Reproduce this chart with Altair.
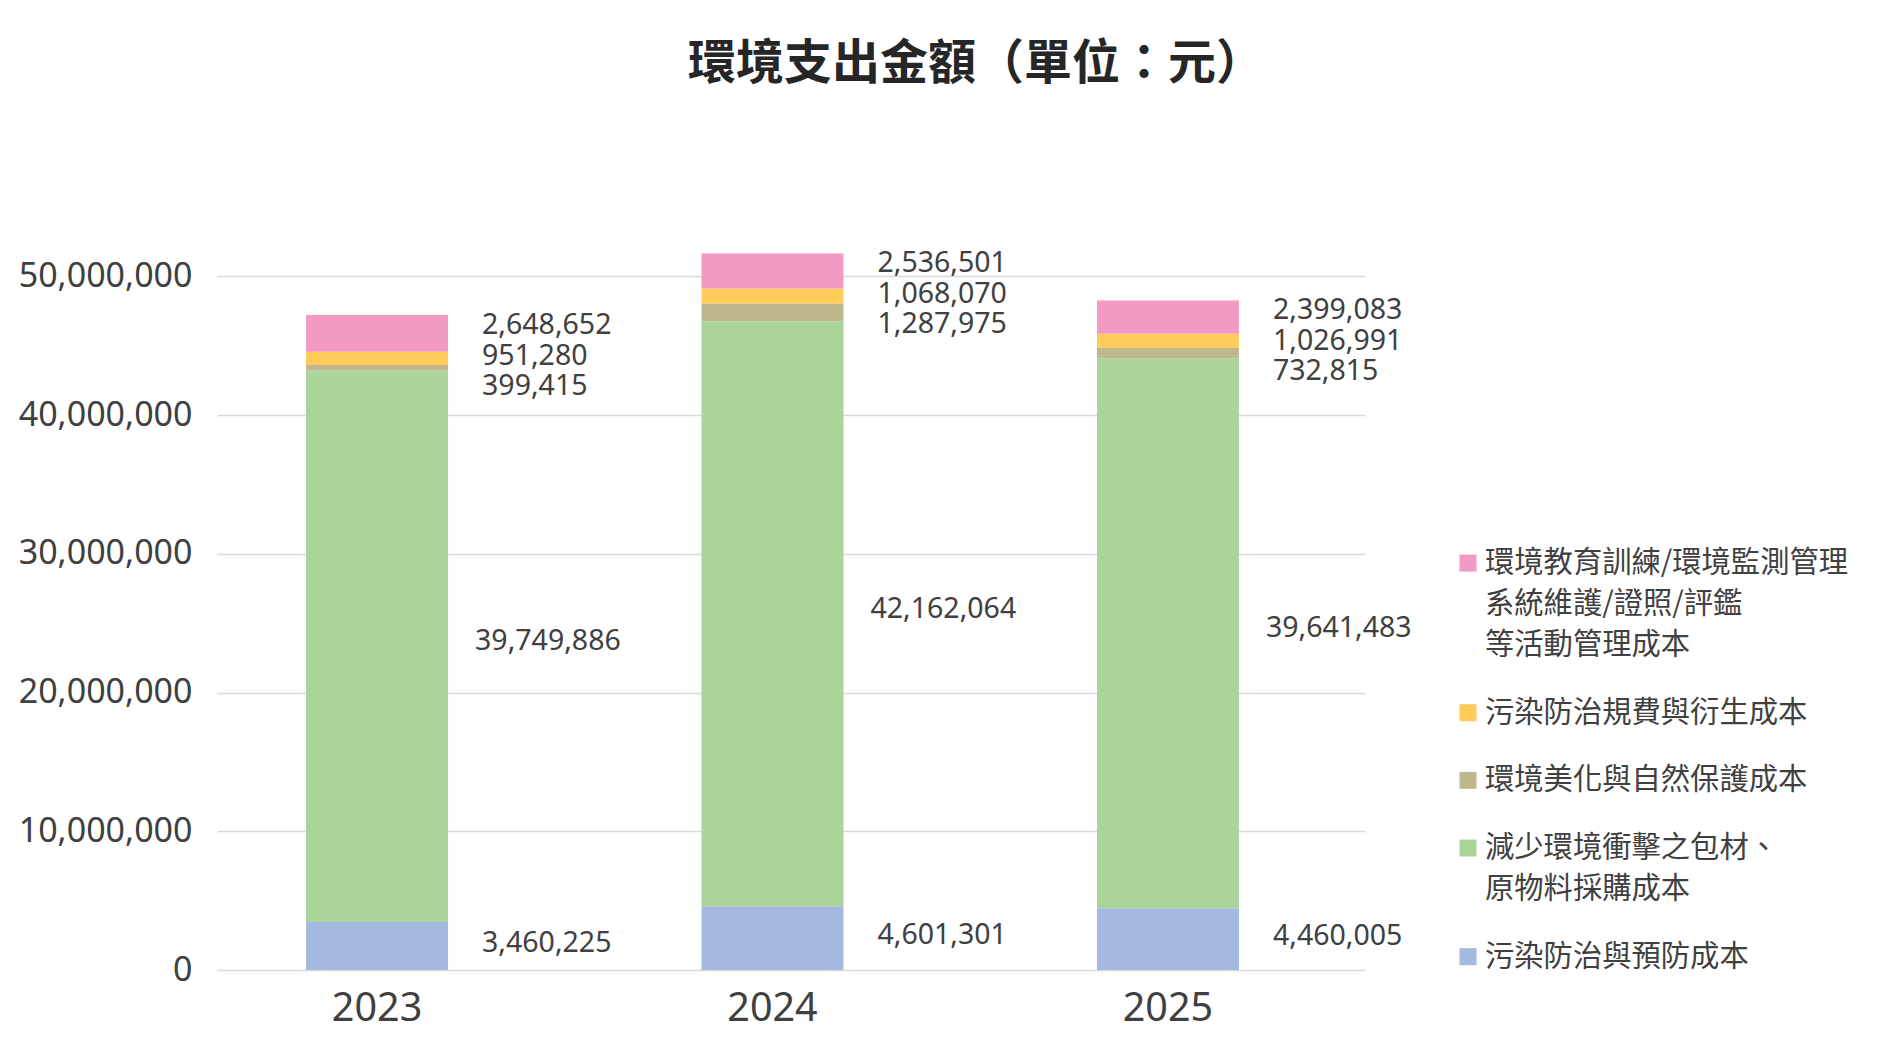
import altair as alt
import pandas as pd

years = ["2023", "2024", "2025"]

# series, stacked from bottom to top
series = [
    "污染防治與預防成本",
    "減少環境衝擊之包材、原物料採購成本",
    "環境美化與自然保護成本",
    "污染防治規費與衍生成本",
    "環境教育訓練/環境監測管理系統維護/證照/評鑑等活動管理成本",
]
blue_values = [3460225, 4601301, 4460005]
green_values = [39749886, 42162064, 39641483]
tan_values = [399415, 1287975, 732815]
yellow_values = [951280, 1068070, 1026991]
pink_values = [2648652, 2536501, 2399083]
colors = ["#A4B8E0", "#ABD49A", "#BFB88F", "#FFCC5C", "#F29AC2"]

# legend (top to bottom) with its line breaks
legend_order = [4, 3, 2, 1, 0]
legend_lines = [
    ["環境教育訓練/環境監測管理", "系統維護/證照/評鑑", "等活動管理成本"],
    ["污染防治規費與衍生成本"],
    ["環境美化與自然保護成本"],
    ["減少環境衝擊之包材、", "原物料採購成本"],
    ["污染防治與預防成本"],
]

y_ticks = [0, 10000000, 20000000, 30000000, 40000000, 50000000]
title_text = "環境支出金額（單位：元）"

values_by_series = [blue_values, green_values, tan_values, yellow_values, pink_values]

rows = []
for i, yr in enumerate(years):
    start = 0
    total = sum(v[i] for v in values_by_series)
    for s, vals in enumerate(values_by_series):
        v = vals[i]
        rows.append({"year": yr, "series": series[s], "idx": s, "value": v,
                     "start": start, "end": start + v, "mid": start + v / 2,
                     "total": total})
        start += v
df = pd.DataFrame(rows)

leg_rows = []
pos = 0.0
for k, s in enumerate(legend_order):
    for j, line in enumerate(legend_lines[k]):
        leg_rows.append({"series": series[s], "line": line, "pos": pos + 2 * j, "first": j == 0})
    pos = pos + 2 * (len(legend_lines[k]) - 1) + 3.3
leg_df = pd.DataFrame(leg_rows)

color_scale = alt.Scale(domain=series, range=colors)
y_scale = alt.Scale(domain=[0, 55000000], nice=False)
x_enc = alt.X(
    "year:N", sort=years, title=None,
    scale=alt.Scale(paddingInner=0.641, paddingOuter=0.272, align=0.414),
    axis=alt.Axis(labelFontSize=39.5, labelColor="#404040", labelFont="Noto Sans",
                  labelPadding=19, ticks=False, domain=False, labelAngle=0),
)

base = alt.Chart(df)
bars = base.mark_bar().encode(
    x=x_enc,
    y=alt.Y("start:Q", scale=y_scale, title=None,
            axis=alt.Axis(values=y_ticks, format=",d", labelFontSize=34,
                          labelColor="#404040", labelFont="Noto Sans",
                          labelPadding=25, ticks=False, domain=False,
                          grid=True, gridColor="#D9D9D9", gridWidth=1.5)),
    y2="end:Q",
    color=alt.Color("series:N", scale=color_scale, legend=None),
)

txt_style = dict(align="left", baseline="middle", fontSize=28.5, font="Noto Sans", color="#404040")

layers = [bars]
for s, dy in [(4, 10), (3, 40.5), (2, 71)]:
    layers.append(
        base.transform_filter(f"datum.idx == {s}").mark_text(dx=105, dy=dy, **txt_style).encode(
            x=alt.X("year:N", sort=years), y=alt.Y("total:Q"),
            text=alt.Text("value:Q", format=","))
    )
layers.append(
    base.transform_filter("datum.idx == 1").mark_text(dx=98, dy=-5, **txt_style).encode(
        x=alt.X("year:N", sort=years), y=alt.Y("mid:Q"),
        text=alt.Text("value:Q", format=","))
)
layers.append(
    base.transform_filter("datum.idx == 0").mark_text(dx=105, dy=-3, **txt_style).encode(
        x=alt.X("year:N", sort=years), y=alt.Y("mid:Q"),
        text=alt.Text("value:Q", format=","))
)

main = alt.layer(*layers).properties(
    width=1148, height=763,
    title=alt.Title(title_text, fontSize=48, font="Noto Sans CJK TC", fontWeight="bold",
                    color="#262626", offset=118, frame="group", anchor="middle", dx=185),
)

leg_y = alt.Y("pos:Q", scale=alt.Scale(domain=[-17.37, 19.85], reverse=True, nice=False, zero=False), axis=None)
leg_base = alt.Chart(leg_df)
leg_sym = leg_base.transform_filter("datum.first").mark_square(size=289, opacity=1).encode(
    x=alt.value(0), y=leg_y,
    color=alt.Color("series:N", scale=color_scale, legend=None),
)
leg_txt = leg_base.mark_text(align="left", baseline="middle", dx=17, fontSize=29.3,
                             font="Noto Sans CJK TC", color="#404040").encode(
    x=alt.value(0), y=leg_y, text="line:N",
)
legend = alt.layer(leg_sym, leg_txt).properties(width=235, height=763)

chart = alt.hconcat(main, legend, spacing=103, bounds="flush").properties(
    padding={"left": 10, "top": 33, "right": 5, "bottom": 5},
    background="white",
).configure_view(stroke=None)

chart.save("out.html", embed_options={"renderer": "svg", "actions": False})
